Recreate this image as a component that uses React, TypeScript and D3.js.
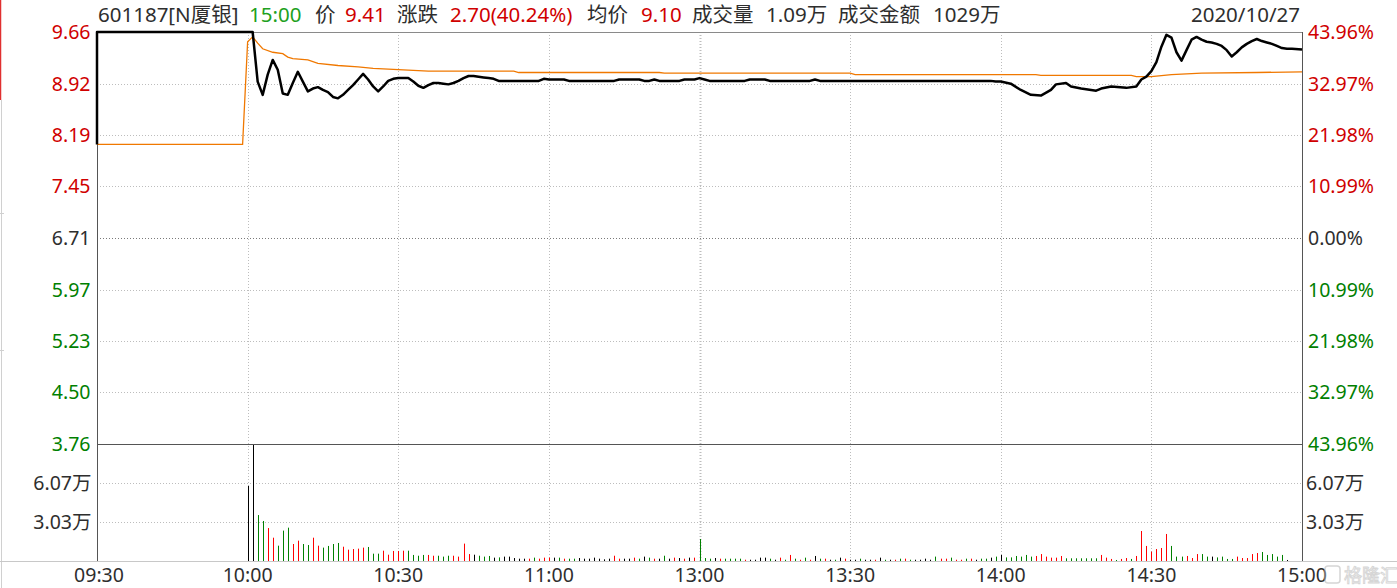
import * as d3 from 'd3';

// minute index: 0 = 09:30, 120 = 11:30/13:00, 240 = 15:00
const timeTicks = [0, 30, 60, 90, 120, 150, 180, 210, 240];
const timeLabels = ['09:30', '10:00', '10:30', '11:00', '13:00', '13:30', '14:00', '14:30', '15:00'];

const prevClose = 6.71;
const priceTicks = [9.66, 8.92, 8.19, 7.45, 6.71, 5.97, 5.23, 4.5, 3.76];
const pctLabels = ['43.96%', '32.97%', '21.98%', '10.99%', '0.00%', '10.99%', '21.98%', '32.97%', '43.96%'];

const volMax = 9.09;
const volTicks = [3.03, 6.07];
const volLabels = ['3.03万', '6.07万'];

const header = [
  { t: '601187[N厦银]', c: 'dark' },
  { t: '15:00', c: 'lime' },
  { t: '价', c: 'dark' },
  { t: '9.41', c: 'up' },
  { t: '涨跌', c: 'dark' },
  { t: '2.70(40.24%)', c: 'up' },
  { t: '均价', c: 'dark' },
  { t: '9.10', c: 'up' },
  { t: '成交量', c: 'dark' },
  { t: '1.09万', c: 'dark' },
  { t: '成交金额', c: 'dark' },
  { t: '1029万', c: 'dark' },
];
const dateLabel = '2020/10/27';

// price line (minute, price)
const priceMin = [
  0, 0, 31, 32, 33, 34, 35, 36, 37, 38, 39, 40, 41, 42, 43, 44, 45, 46, 47, 48, 49, 50, 51, 52, 53, 54, 55, 56, 57, 58,
  59, 60, 61, 62, 63, 64, 65, 66, 67, 68, 69, 70, 71, 72, 73, 74, 75, 76, 77, 78, 79, 80, 88, 89, 90, 93, 94, 103, 104,
  108, 109, 110, 111, 112, 116, 117, 119, 120, 121, 122, 129, 130, 133, 134, 142, 143, 144, 178, 179, 180, 182, 184,
  186, 188, 190, 191, 193, 194, 196, 199, 200, 202, 205, 207, 208, 209, 210, 211, 212, 213, 214, 215, 216, 217, 218,
  219, 220, 221, 222, 223, 224, 225, 226, 227, 228, 229, 230, 231, 232, 233, 234, 235, 236, 237, 238, 240,
];
const priceVal = [
  8.05, 9.66, 9.66, 8.95, 8.76, 9.05, 9.26, 9.12, 8.78, 8.76, 8.93, 9.09, 8.95, 8.81, 8.85, 8.87, 8.83, 8.8, 8.73, 8.71,
  8.76, 8.83, 8.9, 8.98, 9.06, 8.98, 8.88, 8.81, 8.88, 8.96, 8.99, 9.0, 9.0, 9.0, 8.95, 8.89, 8.86, 8.9, 8.93, 8.93,
  8.92, 8.91, 8.93, 8.96, 9.0, 9.03, 9.03, 9.02, 9.01, 9.0, 8.99, 8.96, 8.96, 8.99, 8.98, 8.98, 8.96, 8.96, 8.98, 8.98,
  8.96, 8.96, 8.98, 8.96, 8.96, 8.98, 8.98, 9.0, 8.98, 8.96, 8.96, 8.98, 8.98, 8.96, 8.96, 8.98, 8.96, 8.96, 8.95,
  8.95, 8.92, 8.83, 8.76, 8.75, 8.83, 8.91, 8.93, 8.88, 8.85, 8.82, 8.85, 8.88, 8.86, 8.88, 8.98, 9.02, 9.1, 9.23,
  9.45, 9.62, 9.58, 9.37, 9.25, 9.4, 9.55, 9.59, 9.55, 9.52, 9.51, 9.49, 9.46, 9.4, 9.31, 9.37, 9.44, 9.49, 9.53, 9.56,
  9.53, 9.51, 9.49, 9.46, 9.43, 9.42, 9.42, 9.41,
];

// average price line
const avgMin = [0, 29, 30, 31, 32, 33, 35, 37, 38, 39, 42, 44, 48, 52, 55, 60, 66, 83, 84, 112, 113, 150, 151, 187, 188, 206, 207, 210, 214, 220, 231, 240];
const avgVal = [8.05, 8.05, 9.52, 9.59, 9.5, 9.42, 9.37, 9.35, 9.3, 9.28, 9.26, 9.21, 9.18, 9.16, 9.14, 9.12, 9.1, 9.1, 9.08, 9.08, 9.07, 9.07, 9.05, 9.05, 9.04, 9.04, 9.02, 9.02, 9.05, 9.07, 9.08, 9.09];

// volume per minute (万), 241 values
const volume = [
  0.39, 0, 0, 0, 0, 0, 0, 0, 0, 0,
  0, 0, 0, 0, 0, 0, 0, 0, 0, 0,
  0, 0, 0, 0, 0, 0, 0, 0, 0, 0,
  5.83, 9.04, 3.57, 3.11, 2.56, 1.81, 1.19, 2.36, 2.59, 1.32,
  1.58, 1.32, 1.24, 1.81, 1.19, 1.04, 1.17, 1.32, 1.4, 1.11,
  0.88, 0.93, 0.96, 1.04, 1.09, 0.57, 0.57, 0.8, 0.49, 0.78,
  0.78, 0.8, 0.8, 0.47, 0.41, 0.47, 0.47, 0.41, 0.41, 0.34,
  0.41, 0.41, 0.34, 1.35, 0.54, 0.49, 0.41, 0.34, 0.39, 0.26,
  0.28, 0.34, 0.34, 0.23, 0.18, 0.18, 0.18, 0.26, 0.18, 0.26,
  0.26, 0.26, 0.26, 0.18, 0.18, 0.18, 0.23, 0.18, 0.18, 0.26,
  0.18, 0.13, 0.18, 0.41, 0.18, 0.18, 0.18, 0.26, 0.18, 0.34,
  0.26, 0.18, 0.18, 0.41, 0.18, 0.26, 0.23, 0.18, 0.26, 0.26,
  1.71, 0.23, 0.18, 0.23, 0.18, 0.18, 0.18, 0.18, 0.18, 0.1,
  0.1, 0.1, 0.26, 0.26, 0.18, 0.1, 0.26, 0.1, 0.47, 0.18,
  0.1, 0.26, 0.1, 0.39, 0.18, 0.18, 0.1, 0.1, 0.26, 0.18,
  0.1, 0.1, 0.18, 0.1, 0.1, 0.1, 0.26, 0.1, 0.1, 0.1,
  0.18, 0.18, 0.1, 0.1, 0.1, 0.18, 0.1, 0.34, 0.18, 0.18,
  0.26, 0.1, 0.1, 0.18, 0.18, 0.1, 0.18, 0.18, 0.26, 0.34,
  0.47, 0.28, 0.28, 0.39, 0.34, 0.47, 0.34, 0.39, 0.54, 0.34,
  0.26, 0.26, 0.39, 0.21, 0.21, 0.21, 0.21, 0.21, 0.21, 0.21,
  0.47, 0.26, 0.16, 0.08, 0.16, 0.23, 0.16, 0.39, 2.33, 1.17,
  0.73, 0.93, 1.01, 2.1, 1.17, 0.34, 0.34, 0.39, 0.23, 0.54,
  0.54, 0.34, 0.34, 0.28, 0.34, 0.16, 0.16, 0.34, 0.23, 0.23,
  0.54, 0.62, 0.7, 0.47, 0.54, 0.34, 0.47, 0.08, 0, 0,
  1.04,
];
// r = up, g = down, k = unchanged
const volDir =
  'rkkkkkkkkk' + 'kkkkkkkkkk' + 'kkkkkkkkkk' +
  'kkggrrgggr' + 'rggrrggggr' + 'rrrrgggrrr' + 'rrggggrrgg' + 'grrrrkgggk' +
  'gkkkkkrgrr' + 'rkgrggkkkk' + 'kkkrrkkrgk' + 'grkgkrkrkr' +
  'gggkrggggr' + 'kkkkgkrgrg' + 'rgrkgrkgkr' + 'kkgkkrkgkr' + 'grgkkkkgrr' + 'grrgrkggkg' +
  'kggggggrrr' + 'rrrggggggg' + 'rrrgrrgrrr' + 'rrrrgggrrr' + 'ggkggggrrr' + 'rrgggggkkk' + 'g';

const C = {
  dark: '#2e2e2e',
  up: '#d00000',
  down: '#008000',
  lime: '#20a020',
  barUp: '#ff0000',
  barDown: '#008000',
  barFlat: '#000000',
  grid: '#bdbdbd',
  axis: '#555555',
};

const FONT = "'Noto Sans', 'Noto Sans CJK SC', sans-serif";
const FS = 19.5;

export default function App() {
  const W = 1397;
  const H = 588;
  const left = 97;
  const right = 1302;
  const top = 32;
  const mid = 444;
  const bottom = 561;

  const x = d3.scaleLinear().domain([0, 240]).range([left, right]);
  const yP = d3.scaleLinear().domain([3.76, 9.66]).range([mid, top]);
  const yV = d3.scaleLinear().domain([0, volMax]).range([bottom, mid]);

  const priceLine = d3
    .line<number>()
    .x((i) => x(priceMin[i]))
    .y((i) => yP(priceVal[i]));
  const avgLine = d3
    .line<number>()
    .x((i) => x(avgMin[i]))
    .y((i) => yP(avgVal[i]));

  const headerX = [98, 249, 315, 345, 397, 450, 587, 641, 692, 766, 838, 933];
  const px = (v: number) => Math.round(v) + 0.5;
  const tickColor = (v: number) => (Math.abs(v - prevClose) < 0.001 ? C.dark : v > prevClose ? C.up : C.down);

  return (
    <svg
      width={W}
      height={H}
      viewBox={`0 0 ${W} ${H}`}
      style={{ position: 'absolute', left: 0, top: 0, background: '#fff' }}
      fontFamily={FONT}
      fontSize={FS}
    >
      <rect width={W} height={H} fill="#fff" />

      {/* window edge */}
      <line x1={1.5} x2={1.5} y1={100} y2={H} stroke="#d0d0d0" />
      <line x1={0.5} x2={0.5} y1={0} y2={100} stroke="#e03030" strokeWidth={1.5} />
      <line x1={0} x2={4} y1={213.5} y2={213.5} stroke="#d0d0d0" />
      <line x1={0} x2={4} y1={350.5} y2={350.5} stroke="#d0d0d0" />

      {/* horizontal price grid */}
      {priceTicks.slice(1, -1).map((v) => (
        <line
          key={'hp' + v}
          x1={left}
          x2={right}
          y1={px(yP(v))}
          y2={px(yP(v))}
          stroke={v === prevClose ? '#7a7a7a' : C.grid}
          strokeDasharray="1 2"
        />
      ))}
      {/* volume grid */}
      {volTicks.map((v) => (
        <line key={'hv' + v} x1={left} x2={right} y1={px(yV(v))} y2={px(yV(v))} stroke={C.grid} strokeDasharray="1 2" />
      ))}
      {/* vertical grid */}
      {timeTicks.slice(1, -1).map((t) => (
        <line
          key={'vg' + t}
          x1={px(x(t))}
          x2={px(x(t))}
          y1={top}
          y2={bottom}
          stroke={C.grid}
          strokeWidth={t === 120 ? 2 : 1}
          strokeDasharray="1 2"
        />
      ))}

      {/* volume bars */}
      {volume.map((v, i) =>
        v > 0 ? (
          <line
            key={'b' + i}
            x1={px(x(i))}
            x2={px(x(i))}
            y1={bottom}
            y2={yV(v)}
            stroke={volDir[i] === 'r' ? C.barUp : volDir[i] === 'g' ? C.barDown : C.barFlat}
            strokeWidth={1}
          />
        ) : null
      )}

      {/* frame */}
      <line x1={0} x2={W} y1={bottom + 0.5} y2={bottom + 0.5} stroke="#c8c8c8" />
      <line x1={left} x2={right} y1={top + 0.5} y2={top + 0.5} stroke="#8a8a8a" />
      <line x1={left} x2={right} y1={mid + 0.5} y2={mid + 0.5} stroke={C.axis} />
      <line x1={left + 0.5} x2={left + 0.5} y1={top} y2={bottom} stroke={C.axis} />
      <line x1={right + 0.5} x2={right + 0.5} y1={top} y2={bottom} stroke={C.axis} />

      {/* lines */}
      <path d={avgLine(d3.range(avgMin.length)) || ''} fill="none" stroke="#f07800" strokeWidth={1.3} />
      <path
        d={priceLine(d3.range(priceMin.length)) || ''}
        fill="none"
        stroke="#000"
        strokeWidth={2.5}
        strokeLinejoin="round"
      />

      {/* left price axis */}
      {priceTicks.map((v) => (
        <text key={'lp' + v} x={90.5} y={yP(v)} dy="0.36em" textAnchor="end" fill={tickColor(v)}>
          {v.toFixed(2)}
        </text>
      ))}
      {/* right pct axis */}
      {priceTicks.map((v, i) => (
        <text key={'rp' + v} x={1308} y={yP(v)} dy="0.36em" fill={tickColor(v)}>
          {pctLabels[i]}
        </text>
      ))}
      {/* volume axis */}
      {volTicks.map((v, i) => (
        <g key={'va' + v}>
          <text x={91.5} y={yV(v)} dy="0.36em" textAnchor="end" fill={C.dark}>
            {volLabels[i]}
          </text>
          <text x={1306} y={yV(v)} dy="0.36em" fill={C.dark}>
            {volLabels[i]}
          </text>
        </g>
      ))}

      {/* time axis */}
      {timeTicks.map((t, i) => (
        <text key={'t' + t} x={x(t) + (i === 0 ? 2 : 0)} y={581.5} textAnchor="middle" fill={C.dark}>
          {timeLabels[i]}
        </text>
      ))}

      {/* header */}
      {header.map((h, i) => (
        <text
          key={'h' + i}
          x={headerX[i]}
          y={21.5}
          fontSize={20.5}
          fill={h.c === 'up' ? C.up : h.c === 'lime' ? C.lime : C.dark}
        >
          {h.t}
        </text>
      ))}
      <text x={1300} y={21.5} fontSize={20.5} textAnchor="end" fill={C.dark}>
        {dateLabel}
      </text>

      {/* watermark */}
      <g opacity={0.6}>
        <rect x={1325} y={566} width={15} height={17} rx={3} fill="none" stroke="#bbb" strokeWidth={1.5} />
        <text x={1344} y={582} fontSize={18} fill="none" stroke="#bbb" strokeWidth={0.9}>
          格隆汇
        </text>
      </g>
    </svg>
  );
}
